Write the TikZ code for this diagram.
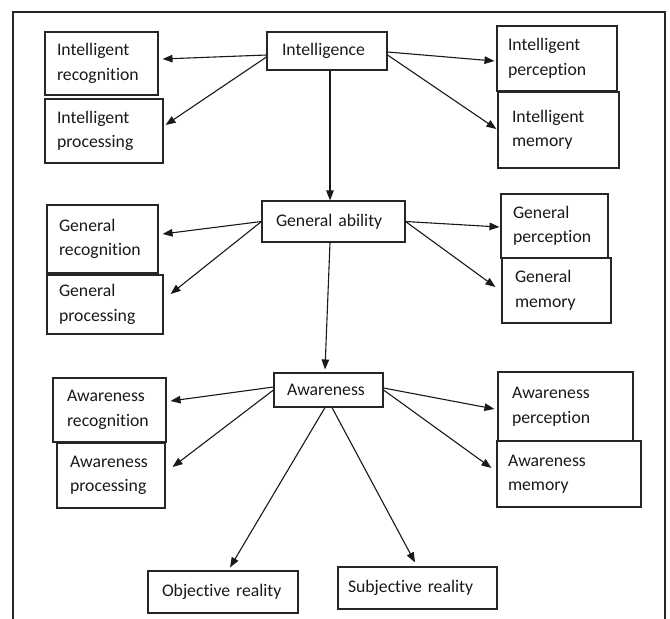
\documentclass[tikz,border=0pt]{standalone}
\usepackage{fontspec}
\setmainfont{Carlito}[Ligatures=NoCommon]
\usetikzlibrary{arrows.meta}

\begin{document}
\begin{tikzpicture}[x=1pt, y=-1pt,
  box/.style={draw=black!85, line width=1.1pt, rectangle, align=left,
    inner ysep=0pt, text=black!90,
    font=\fontsize{17.7}{24.5}\selectfont},
  arr/.style={draw=black!90, line width=1.1pt,
    -{Triangle[length=10pt,width=7.5pt]}},
  frame/.style={draw=black!85, line width=1.3pt}
]
\useasboundingbox (0,0) rectangle (670,619);

% outer frame (open at the bottom)
\draw[frame] (13,625) -- (13,12) -- (665,12) -- (665,625);

% --- Intelligence level ---
\node[box, minimum width=120pt, minimum height=38pt, inner xsep=15pt, text width=90pt] (intel) at (327,51) {Intelligence};
\node[box, minimum width=113pt, minimum height=63pt, inner xsep=12pt, text width=89pt] (irec) at (101.5,63.5) {Intelligent\\recognition};
\node[box, minimum width=118pt, minimum height=64pt, inner xsep=12pt, text width=94pt] (iproc) at (104,131) {Intelligent\\processing};
\node[box, minimum width=120pt, minimum height=65pt, inner xsep=11pt, text width=98pt] (iper) at (557,58.5) {Intelligent\\perception};
\node[box, minimum width=121pt, minimum height=76pt, inner xsep=14pt, text width=93pt] (imem) at (558.5,130) {Intelligent\\memory};

% --- General ability level ---
\node[box, minimum width=143pt, minimum height=41pt, inner xsep=14pt, text width=115pt] (gen) at (333.5,221.5) {General ability};
\node[box, minimum width=111pt, minimum height=68pt, inner xsep=12pt, text width=87pt] (grec) at (102.5,239) {General\\recognition};
\node[box, minimum width=116pt, minimum height=59pt, inner xsep=12pt, text width=92pt] (gproc) at (105,304.5) {General\\processing};
\node[box, minimum width=107pt, minimum height=64pt, inner xsep=12pt, text width=83pt] (gper) at (554.5,226) {General\\perception};
\node[box, minimum width=109pt, minimum height=65pt, inner xsep=13pt, text width=83pt] (gmem) at (556.5,290.5) {General\\memory};

% --- Awareness level ---
\node[box, minimum width=109pt, minimum height=34pt, inner xsep=13pt, text width=83pt] (aw) at (328.5,390) {Awareness};
\node[box, minimum width=113pt, minimum height=64pt, inner xsep=14pt, text width=85pt] (arec) at (109.5,410) {Awareness\\recognition};
\node[box, minimum width=108pt, minimum height=65pt, inner xsep=13pt, text width=82pt] (aproc) at (111,475.5) {Awareness\\processing};
\node[box, minimum width=135pt, minimum height=69pt, inner xsep=14pt, text width=107pt] (aper) at (565.5,406.5) {Awareness\\perception};
\node[box, minimum width=144pt, minimum height=66pt, inner xsep=11pt, text width=122pt] (amem) at (569,474) {Awareness\\memory};

% --- Realities ---
\node[box, minimum width=150pt, minimum height=42pt, inner xsep=14pt, text width=122pt] (obj) at (223,592) {Objective reality};
\node[box, minimum width=159pt, minimum height=42pt, inner xsep=10pt, text width=139pt] (subj) at (417.5,588) {Subjective reality};

% --- connectors from Intelligence ---
\draw[arr] ([shift={(0,4)}]intel.west) -- ([shift={(4,-4.5)}]irec.east);
\draw[arr] ([shift={(0,6)}]intel.west) -- ([shift={(2,-6)}]iproc.east);
\draw[arr] ([shift={(0,1)}]intel.east) -- ([shift={(-2,2.5)}]iper.west);
\draw[arr] ([shift={(0,4)}]intel.east) -- ([shift={(-1,-1)}]imem.west);
\draw[arr] ([shift={(3,0)}]intel.south) -- ([shift={(-3.5,0)}]gen.north);

% --- connectors from General ability ---
\draw[arr] (gen.west) -- ([shift={(4,-5)}]grec.east);
\draw[arr] (gen.west) -- ([shift={(7,-10.5)}]gproc.east);
\draw[arr] (gen.east) -- ([shift={(-1,1)}]gper.west);
\draw[arr] (gen.east) -- ([shift={(-6,-3.5)}]gmem.west);
\draw[arr] ([shift={(-3.5,0)}]gen.south) -- ([shift={(-3.5,-3)}]aw.north);

% --- connectors from Awareness ---
\draw[arr] ([shift={(0,-3)}]aw.west) -- ([shift={(4,-9)}]arec.east);
\draw[arr] (aw.west) -- ([shift={(7,-8.5)}]aproc.east);
\draw[arr] ([shift={(0,-2)}]aw.east) -- ([shift={(-3,2.5)}]aper.west);
\draw[arr] (aw.east) -- ([shift={(-5,-6)}]amem.west);
\draw[arr] ([shift={(-3.5,0)}]aw.south) -- ([shift={(7,-3)}]obj.north);
\draw[arr] ([shift={(3.5,0)}]aw.south) -- ([shift={(-2.5,-4)}]subj.north);
\end{tikzpicture}
\end{document}
